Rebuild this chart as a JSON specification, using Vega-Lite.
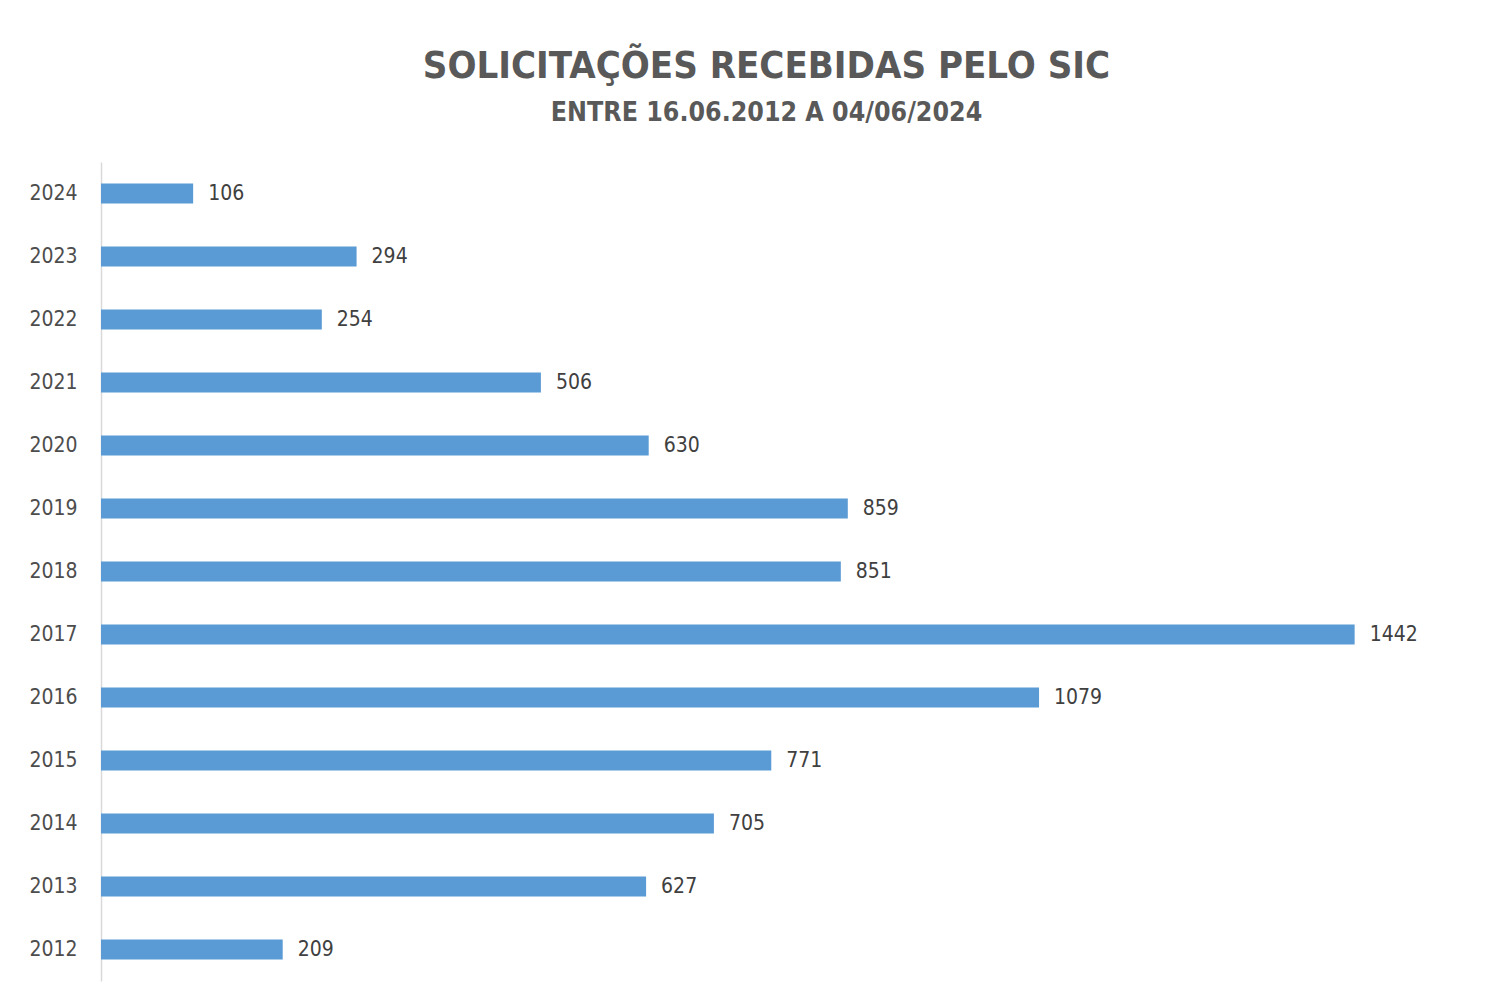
{
  "$schema": "https://vega.github.io/schema/vega-lite/v6.json",
  "width": 1391,
  "height": 819,
  "autosize": "none",
  "padding": {"left": 101, "top": 162, "right": 11, "bottom": 23},
  "background": "white",
  "title": {
    "text": "SOLICITAÇÕES RECEBIDAS PELO SIC",
    "subtitle": "ENTRE 16.06.2012 A 04/06/2024",
    "anchor": "middle",
    "dx": -30,
    "offset": 36,
    "font": "DejaVu Sans Condensed, sans-serif",
    "fontSize": 38,
    "fontWeight": "bold",
    "color": "#595959",
    "subtitleFont": "DejaVu Sans Condensed, sans-serif",
    "subtitleFontSize": 26.5,
    "subtitleFontWeight": "bold",
    "subtitleColor": "#595959",
    "subtitlePadding": 14
  },
  "data": {
    "values": [
      {"year": "2024", "value": 106},
      {"year": "2023", "value": 294},
      {"year": "2022", "value": 254},
      {"year": "2021", "value": 506},
      {"year": "2020", "value": 630},
      {"year": "2019", "value": 859},
      {"year": "2018", "value": 851},
      {"year": "2017", "value": 1442},
      {"year": "2016", "value": 1079},
      {"year": "2015", "value": 771},
      {"year": "2014", "value": 705},
      {"year": "2013", "value": 627},
      {"year": "2012", "value": 209}
    ]
  },
  "encoding": {
    "y": {
      "field": "year",
      "type": "nominal",
      "sort": null,
      "scale": {"paddingInner": 0.683, "paddingOuter": 0.3415},
      "axis": {
        "title": null,
        "ticks": false,
        "domainColor": "#d9d9d9",
        "domainWidth": 1.5,
        "labelPadding": 24,
        "labelFont": "DejaVu Sans Condensed, sans-serif",
        "labelFontSize": 21,
        "labelColor": "#4d4d4d",
        "labelFontWeight": "normal"
      }
    },
    "x": {
      "field": "value",
      "type": "quantitative",
      "scale": {"domain": [0, 1600], "nice": false},
      "axis": null
    }
  },
  "layer": [
    {"mark": {"type": "bar", "color": "#5B9BD5"}},
    {
      "mark": {
        "type": "text",
        "align": "left",
        "baseline": "middle",
        "dx": 15,
        "font": "DejaVu Sans Condensed, sans-serif",
        "fontSize": 21,
        "color": "#404040"
      },
      "encoding": {"text": {"field": "value", "type": "quantitative"}}
    }
  ],
  "config": {"view": {"stroke": null}, "axis": {"grid": false}}
}
